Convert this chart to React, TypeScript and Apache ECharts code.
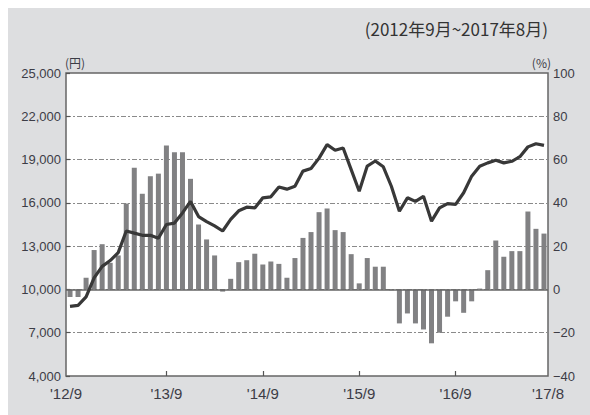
import React, { useEffect, useRef } from "react";
import * as echarts from "echarts";

// Categories: monthly, Sep 2012 .. Aug 2017
const months: string[] = [];
for (let k = 0; k < 60; k++) {
  const m = 8 + k;
  months.push(`${2012 + Math.floor(m / 12)}/${(m % 12) + 1}`);
}

const xTickIndex = [12, 24, 36, 48];
const xTickLabels = ["'13/9", "'14/9", "'15/9", "'16/9"];
const xEdgeLabels = ["'12/9", "'17/8"];

// Stock price level (円), left axis
const priceYen = [
  8830, 8900, 9480, 10800, 11600, 12000, 12550, 14050, 13900, 13750, 13750, 13550,
  14500, 14600, 15300, 16100, 15050, 14700, 14400, 14050, 14850, 15450, 15700, 15650,
  16350, 16420, 17100, 16950, 17150, 18200, 18380, 19100, 20040, 19650, 19800, 18300,
  16800, 18550, 18900, 18500, 17150, 15420, 16350, 16100, 16450, 14730, 15650, 15950,
  15900, 16700, 17850, 18540, 18770, 18950, 18770, 18880, 19200, 19880, 20100, 19980,
];

// Year-on-year change (%), right axis
const yoyPct = [
  -3.5, -3.5, 5.4, 18.2, 20.9, 12.3, 15.7, 39.7, 56.2, 44.2, 52.3, 53.5,
  66.5, 63.4, 63.4, 51.1, 30.0, 23.1, 15.7, -1.0, 4.9, 12.6, 13.5, 16.5,
  11.5, 12.9, 11.8, 5.4, 14.5, 23.8, 26.5, 35.7, 37.4, 27.4, 26.5, 16.3,
  2.8, 14.5, 10.5, 10.5, -0.4, -15.7, -11.1, -15.7, -18.5, -24.9, -20.0, -12.6,
  -5.5, -10.8, -5.5, 0.4, 8.9, 22.6, 15.1, 17.7, 17.7, 36.0, 28.0, 25.8,
];

const leftTicks = { min: 4000, max: 25000, interval: 3000 };
const rightTicks = { min: -40, max: 100, interval: 20 };

const titleText = "(2012年9月~2017年8月)";
const leftUnit = "(円)";
const rightUnit = "(%)";

const FONT = "'Liberation Sans', 'Noto Sans CJK JP', sans-serif";
const TEXT_COLOR = "#3c3c46";

export default function App() {
  const ref = useRef<HTMLDivElement>(null);

  useEffect(() => {
    if (!ref.current) return;
    const chart = echarts.init(ref.current, undefined, { renderer: "svg" });
    const tickSet = new Set(xTickIndex);
    chart.setOption({
      animation: false,
      backgroundColor: "#dddee0",
      textStyle: { fontFamily: FONT },
      grid: {
        left: 58,
        right: 42,
        top: 65,
        bottom: 39,
        show: true,
        backgroundColor: "#ffffff",
        borderColor: "#666666",
        borderWidth: 1.5,
      },
      graphic: [
        {
          type: "text",
          right: 42,
          top: 12,
          style: {
            text: titleText,
            fontSize: 17,
            fontFamily: "'Noto Sans CJK JP', sans-serif",
            fill: "#333333",
          },
        },
        {
          type: "text",
          x: 57,
          y: 54,
          style: {
            text: leftUnit,
            fontSize: 12,
            fontFamily: "'Noto Sans CJK JP', sans-serif",
            fill: TEXT_COLOR,
            textAlign: "left",
            textVerticalAlign: "middle",
          },
        },
        {
          type: "text",
          x: 543,
          y: 54,
          style: {
            text: rightUnit,
            fontSize: 12,
            fontFamily: "'Noto Sans CJK JP', sans-serif",
            fill: TEXT_COLOR,
            textAlign: "right",
            textVerticalAlign: "middle",
          },
        },
      ],
      xAxis: [
        {
          type: "category",
          data: months,
          boundaryGap: true,
          position: "bottom",
          axisLine: { show: false, onZero: false },
          axisTick: {
            show: true,
            inside: true,
            length: 5,
            alignWithLabel: true,
            interval: (i: number) => tickSet.has(i),
            lineStyle: { color: "#555555", width: 1.2 },
          },
          axisLabel: {
            interval: (i: number) => tickSet.has(i),
            formatter: (_v: string, i: number) => {
              const p = xTickIndex.indexOf(i);
              return p >= 0 ? xTickLabels[p] : "";
            },
            margin: 10,
            fontSize: 15,
            color: TEXT_COLOR,
            fontFamily: FONT,
          },
          splitLine: { show: false },
        },
        {
          type: "value",
          min: 0,
          max: 1,
          interval: 1,
          position: "bottom",
          axisLine: { show: false, onZero: false },
          axisTick: { show: false },
          splitLine: { show: false },
          axisLabel: {
            showMinLabel: true,
            showMaxLabel: true,
            formatter: (v: number) => (v === 0 ? xEdgeLabels[0] : xEdgeLabels[1]),
            margin: 10,
            fontSize: 15,
            color: TEXT_COLOR,
            fontFamily: FONT,
          },
        },
      ],
      yAxis: [
        {
          type: "value",
          position: "left",
          min: leftTicks.min,
          max: leftTicks.max,
          interval: leftTicks.interval,
          axisLine: { show: false },
          axisTick: {
            show: true,
            inside: true,
            length: 4,
            lineStyle: { color: "#555555", width: 1.2 },
          },
          axisLabel: {
            formatter: (v: number) => v.toLocaleString("en-US"),
            margin: 5,
            fontSize: 13,
            color: TEXT_COLOR,
            fontFamily: FONT,
          },
          splitLine: {
            show: true,
            showMinLine: false,
            showMaxLine: false,
            lineStyle: { color: "#8a8a8a", width: 1, type: [5, 2, 2, 2] },
          },
        },
        {
          type: "value",
          position: "right",
          min: rightTicks.min,
          max: rightTicks.max,
          interval: rightTicks.interval,
          axisLine: { show: false },
          axisTick: { show: false },
          axisLabel: {
            formatter: (v: number) => String(v).replace("-", "−"),
            margin: 5,
            fontSize: 13,
            color: TEXT_COLOR,
            fontFamily: FONT,
          },
          splitLine: { show: false },
        },
      ],
      series: [
        {
          type: "bar",
          name: "前年比",
          xAxisIndex: 0,
          yAxisIndex: 1,
          data: yoyPct,
          barWidth: 5,
          itemStyle: { color: "#818183" },
          z: 2,
          markLine: {
            silent: true,
            symbol: "none",
            label: { show: false },
            lineStyle: { color: "#666666", width: 1.5, type: "solid" },
            data: [{ yAxis: 0 }],
          },
        },
        {
          type: "line",
          name: "株価",
          xAxisIndex: 0,
          yAxisIndex: 0,
          data: priceYen,
          showSymbol: false,
          symbol: "none",
          lineStyle: { color: "#383838", width: 3.2 },
          z: 5,
        },
      ],
    });
    return () => chart.dispose();
  }, []);

  return (
    <div
      ref={ref}
      style={{ position: "fixed", left: 8, top: 8, width: 582, height: 407 }}
    />
  );
}
